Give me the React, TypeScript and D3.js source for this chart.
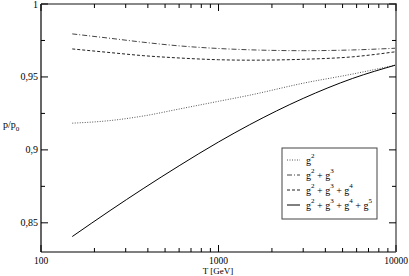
import React from "react";
import * as d3 from "d3";

const temps = [150, 245, 376, 600, 1000, 1500, 3000, 5700, 10000];
const g2 = [0.9183, 0.9201, 0.9232, 0.928, 0.9333, 0.9375, 0.9457, 0.952, 0.9582];
const g23 = [0.9795, 0.9765, 0.9738, 0.9713, 0.9695, 0.9686, 0.968, 0.9685, 0.9697];
const g234 = [0.9692, 0.9667, 0.9646, 0.963, 0.9618, 0.9615, 0.9621, 0.9638, 0.9673];
const g2345 = [0.8406, 0.8584, 0.8734, 0.8891, 0.9054, 0.9173, 0.9353, 0.949, 0.9582];

const yMajor = [0.85, 0.9, 0.95, 1];
const yMinor = [0.875, 0.925, 0.975];
const yLabels = ["0,85", "0,9", "0,95", "1"];
const xMajor = [100, 1000, 10000];
const xLabels = ["100", "1000", "10000"];

const seriesList = [
  { name: [2], values: g2, dash: "1,1.5", color: "#555" },
  { name: [2, 3], values: g23, dash: "5,2,1,2", color: "#444" },
  { name: [2, 3, 4], values: g234, dash: "3,2", color: "#222" },
  { name: [2, 3, 4, 5], values: g2345, dash: "none", color: "#000" },
];

export default function App() {
  const W = 409, H = 276;
  const x = d3.scaleLog().domain([100, 10000]).range([41, 396]);
  const y = d3.scaleLinear().domain([0.83, 1.0]).range([252, 4]);
  const xMinor: number[] = [];
  [100, 1000].forEach((b) => {
    for (let k = 2; k <= 9; k++) xMinor.push(b * k);
  });
  const line = (vals: number[]) =>
    d3
      .line<number>()
      .x((_, i) => x(temps[i]))
      .y((v) => y(v))
      .curve(d3.curveMonotoneX)(vals) || "";
  const font = "'Liberation Serif', 'DejaVu Serif', serif";
  const lx = 282, ly = 148, lw = 95, lh = 71;
  const rowY = (i: number) => ly + 12 + i * 15;

  return (
    <svg width={W} height={H} style={{ position: "absolute", left: 0, top: 0, fontFamily: font }}>
      <rect x={0} y={0} width={W} height={H} fill="#fff" />
      {seriesList.map((s, i) => (
        <path key={i} d={line(s.values)} fill="none" stroke={s.color} strokeWidth={1} strokeDasharray={s.dash} />
      ))}
      <line x1={41} x2={41} y1={4} y2={252} stroke="#000" strokeWidth={1.2} />
      <line x1={41} x2={396} y1={252} y2={252} stroke="#000" strokeWidth={1.2} />
      <line x1={41} x2={397} y1={4} y2={4} stroke="#888" strokeWidth={2} />
      <line x1={396} x2={396} y1={4} y2={252} stroke="#888" strokeWidth={2} />
      {yMajor.map((v, i) => (
        <g key={"ym" + i}>
          <line x1={41} x2={48} y1={y(v)} y2={y(v)} stroke="#000" />
          <line x1={389} x2={396} y1={y(v)} y2={y(v)} stroke="#000" />
          <text x={38} y={y(v) + 3.5} fontSize={10} textAnchor="end">{yLabels[i]}</text>
        </g>
      ))}
      {yMinor.map((v, i) => (
        <g key={"yn" + i}>
          <line x1={41} x2={45} y1={y(v)} y2={y(v)} stroke="#000" />
          <line x1={392} x2={396} y1={y(v)} y2={y(v)} stroke="#000" />
        </g>
      ))}
      {xMajor.map((v, i) => (
        <g key={"xm" + i}>
          <line x1={x(v)} x2={x(v)} y1={252} y2={245} stroke="#000" />
          <line x1={x(v)} x2={x(v)} y1={4} y2={11} stroke="#000" />
          <text x={x(v)} y={264} fontSize={9.5} textAnchor="middle">{xLabels[i]}</text>
        </g>
      ))}
      {xMinor.map((v, i) => (
        <g key={"xn" + i}>
          <line x1={x(v)} x2={x(v)} y1={252} y2={248} stroke="#000" />
          <line x1={x(v)} x2={x(v)} y1={4} y2={8} stroke="#000" />
        </g>
      ))}
      <text x={218} y={274} fontSize={9} textAnchor="middle">T [GeV]</text>
      <text x={3} y={128} fontSize={10}>
        p/p<tspan fontSize={7} dy={3}>0</tspan>
      </text>
      <rect x={lx} y={ly} width={lw} height={lh} fill="#fff" stroke="#444" strokeWidth={1} />
      {seriesList.map((s, i) => (
        <g key={"lg" + i}>
          <line x1={287} x2={300} y1={rowY(i)} y2={rowY(i)} stroke={s.color} strokeWidth={1} strokeDasharray={s.dash} />
          <text x={306} y={rowY(i) + 4} fontSize={10}>
            {s.name.map((p, j) => (
              <React.Fragment key={j}>
                <tspan dy={j === 0 ? 0 : 6}>{j === 0 ? "g" : " + g"}</tspan>
                <tspan fontSize={7} dy={-6}>{p}</tspan>
              </React.Fragment>
            ))}
          </text>
        </g>
      ))}
    </svg>
  );
}
